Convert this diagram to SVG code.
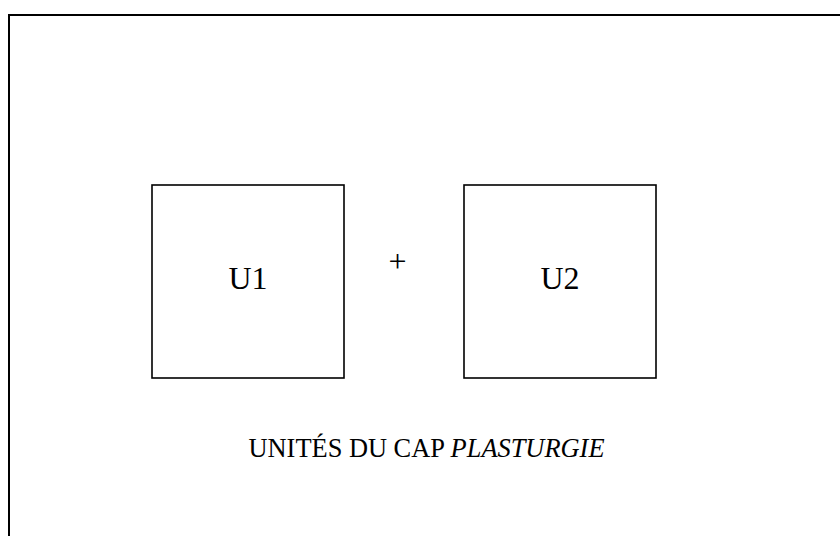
<svg xmlns="http://www.w3.org/2000/svg" width="840" height="536" viewBox="0 0 840 536">
<style>
.frame{fill:none;stroke:#000;stroke-width:2}
.box{fill:#fff;stroke:#000;stroke-width:1.6}
.t{font-family:"Liberation Serif","Times New Roman",serif;fill:#000}
</style>
<rect width="840" height="536" fill="#fff"/>
<path class="frame" d="M9,537 V15 H841"/>
<g id="u1">
<rect class="box" x="152" y="185" width="192" height="193"/>
<text class="t" x="248" y="289" font-size="32" text-anchor="middle">U1</text>
</g>
<g id="plus">
<text class="t" x="397.5" y="272" font-size="32" text-anchor="middle">+</text>
</g>
<g id="u2">
<rect class="box" x="464" y="185" width="192" height="193"/>
<text class="t" x="560" y="289" font-size="32" text-anchor="middle">U2</text>
</g>
<g id="caption">
<text class="t" x="426.5" y="457" font-size="26.4" text-anchor="middle">UNITÉS DU CAP <tspan font-style="italic">PLASTURGIE</tspan></text>
</g>
<g id="connectors"/>
</svg>
